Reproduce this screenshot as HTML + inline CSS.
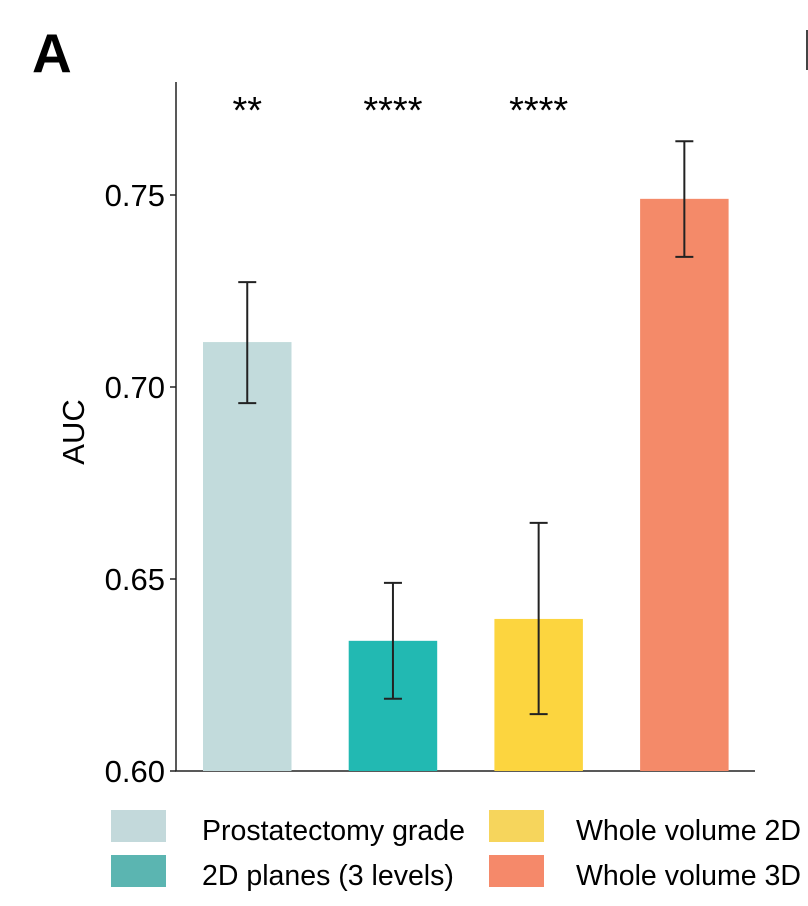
<!DOCTYPE html>
<html><head><meta charset="utf-8"><style>
html,body{margin:0;padding:0;background:#fff;}
svg{display:block;font-family:"Liberation Sans",Arial,sans-serif;}
</style></head><body>
<svg id="chart" width="808" height="906" viewBox="0 0 808 906">
<text x="32" y="72" font-size="55" font-weight="bold">A</text>
<rect x="806" y="30" width="2" height="40" fill="#444"/>
<g id="axes"></g>
<g id="bars"></g>
<text transform="translate(84,432) rotate(-90)" text-anchor="middle" font-size="31">AUC</text>
<g>
<rect x="111" y="810" width="55" height="32" fill="#c3d9db"/>
<text x="202" y="840" font-size="28.5">Prostatectomy grade</text>
<rect x="111" y="855" width="55" height="32" fill="#5bb5b1"/>
<text x="202" y="885" font-size="28.5">2D planes (3 levels)</text>
<rect x="489" y="810" width="55" height="32" fill="#f6d55c"/>
<text x="576" y="840" font-size="28.5">Whole volume 2D</text>
<rect x="489" y="855" width="55" height="32" fill="#f5896a"/>
<text x="576" y="885" font-size="28.5">Whole volume 3D</text>
</g>
</svg>
<script>
const categories = ["Prostatectomy grade","2D planes (3 levels)","Whole volume 2D","Whole volume 3D"];
const values = [0.7117, 0.6339, 0.6396, 0.7490];
const errLow = [0.6958, 0.6188, 0.6148, 0.7339];
const errHigh = [0.7273, 0.6490, 0.6646, 0.7640];
const stars = ["**","****","****",""];
const colors = ["#c2dbdc","#22b9b2","#fcd53f","#f48a69"];
const yTicks = [0.60, 0.65, 0.70, 0.75];
const yTickLabels = ["0.60","0.65","0.70","0.75"];

const NS="http://www.w3.org/2000/svg";
const y0=771, yMin=0.60, pxPer=192/0.05;
function yScale(v){return y0-(v-yMin)*pxPer;}
const barStart=203, barStep=145.7, barW=88.5;
function xBand(i){return barStart+i*barStep;}
function mk(tag,attrs,parent){const e=document.createElementNS(NS,tag);for(const k in attrs)e.setAttribute(k,attrs[k]);parent.appendChild(e);return e;}
const axes=document.getElementById('axes'), bars=document.getElementById('bars');

let l=mk('line',{x1:176,y1:82,x2:176,y2:771.5,stroke:'#222','stroke-width':1.5},axes);


l=mk('line',{x1:175,y1:771,x2:755,y2:771,stroke:'#222','stroke-width':1.5},axes);


yTicks.forEach((t,i)=>{
  const y=yScale(t);
  const tk=mk('line',{x1:170,y1:y,x2:176,y2:y,stroke:'#222','stroke-width':1.5},axes);
  
  
  const tx=mk('text',{x:165,y:y+11,'text-anchor':'end','font-size':31},axes);
  tx.textContent=yTickLabels[i];
  
  
});
categories.forEach((c,i)=>{
  const x=xBand(i), y=yScale(values[i]);
  const r=mk('rect',{x:x,y:y,width:barW,height:y0-y,fill:colors[i]},bars);
  
  
  const cx=x+barW/2, yh=yScale(errHigh[i]), yl=yScale(errLow[i]);
  const g=mk('g',{stroke:'#222','stroke-width':2},bars);
  
  
  mk('line',{x1:cx,y1:yh,x2:cx,y2:yl},g);
  mk('line',{x1:cx-9,y1:yh,x2:cx+9,y2:yh},g);
  mk('line',{x1:cx-9,y1:yl,x2:cx+9,y2:yl},g);
  if(stars[i]){
    const s=mk('text',{x:cx,y:123,'text-anchor':'middle','font-size':38},bars);
    s.textContent=stars[i];
    
    
  }
});
</script>
</body></html>
